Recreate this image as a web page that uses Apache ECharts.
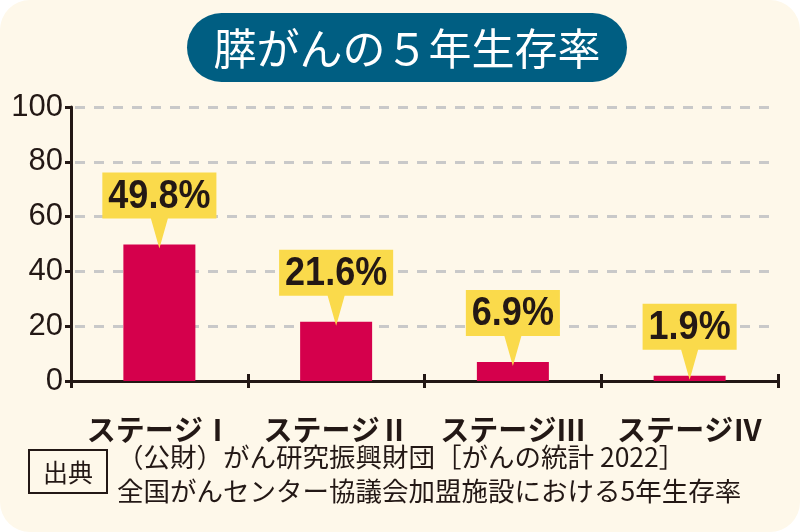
<!DOCTYPE html>
<html>
<head>
<meta charset="utf-8">
<script src="https://cdn.jsdelivr.net/npm/echarts@6/dist/echarts.min.js"></script>
<style>
    html, body {margin: 0; padding: 0; background: #ffffff;}
    #chart {width: 800px; height: 532px;}
</style>
</head>
<body>
<div id="chart"></div>
<script>
    // data
    const stages = ['ステージⅠ', 'ステージⅡ', 'ステージⅢ', 'ステージⅣ'];
    const survival = [49.8, 21.6, 6.9, 1.9];
    const yTicks = {min: 0, max: 100, interval: 20};

    const titleText = '膵がんの５年生存率';
    const sourceTag = '出典';
    const sourceLines = [
        '（公財）がん研究振興財団［がんの統計 2022］',
        '全国がんセンター協議会加盟施設における5年生存率'
    ];

    const ink = '#231815';
    const labelFont = 'bold 40px "Liberation Sans", Arial, sans-serif';
    const jpFont = '"Noto Sans CJK JP", sans-serif';

    let ctx = document.createElement('canvas').getContext('2d');
    function textWidth(txt, font) {
        ctx.font = font;
        return ctx.measureText(txt).width;
    }

    let chart = echarts.init(document.getElementById('chart'));
    chart.setOption({
        animation: false,
        backgroundColor: 'transparent',
        grid: {left: 71, right: 22, top: 107, bottom: 151},
        xAxis: [
            {
                type: 'category',
                data: stages,
                axisLine: {lineStyle: {color: ink, width: 3}},
                axisTick: {show: true, length: 7, lineStyle: {color: ink, width: 3}},
                axisLabel: {
                    interval: 0,
                    color: ink,
                    fontFamily: jpFont,
                    fontWeight: 'bold',
                    fontSize: 29,
                    margin: 34
                }
            },
            {
                // second axis only for the inner half of the crossing ticks
                type: 'category',
                data: stages,
                position: 'bottom',
                axisLine: {show: false},
                axisTick: {show: true, inside: true, length: 7, lineStyle: {color: ink, width: 3}},
                axisLabel: {show: false}
            }
        ],
        yAxis: {
            type: 'value',
            min: yTicks.min,
            max: yTicks.max,
            interval: yTicks.interval,
            axisLine: {show: true, lineStyle: {color: ink, width: 3}},
            axisTick: {show: true, length: 6, lineStyle: {color: ink, width: 3}},
            axisLabel: {
                color: ink,
                fontFamily: '"Liberation Sans", Arial, sans-serif',
                fontSize: 31,
                margin: 8
            },
            splitLine: {
                lineStyle: {color: '#C9C9C9', width: 3, type: [10, 9], dashOffset: 15}
            }
        },
        series: [
            {
                name: '5年生存率',
                type: 'bar',
                data: survival,
                barWidth: 72,
                itemStyle: {color: '#D5004C'},
                z: 2
            },
            {
                // yellow call-out boxes pointing at the bar tops
                type: 'custom',
                data: survival.map(function (v, i) { return [i, v]; }),
                z: 5,
                renderItem: function (params, api) {
                    let p = api.coord([api.value(0), api.value(1)]);
                    let txt = api.value(1).toFixed(1) + '%';
                    let w = textWidth(txt, labelFont) * 0.9 + 12;
                    let h = 46;
                    let cx = p[0];
                    let tipY = p[1] + 4;
                    let bot = tipY - 30;
                    let top = bot - h;
                    return {
                        type: 'group',
                        children: [
                            {
                                type: 'polygon',
                                shape: {
                                    points: [
                                        [cx - w / 2, top], [cx + w / 2, top], [cx + w / 2, bot],
                                        [cx + 8.5, bot], [cx, tipY], [cx - 8.5, bot], [cx - w / 2, bot]
                                    ]
                                },
                                style: {fill: '#FADA4B'}
                            },
                            {
                                type: 'text',
                                x: cx,
                                y: (top + bot) / 2 + 1,
                                scaleX: 0.9,
                                style: {
                                    text: txt,
                                    fill: ink,
                                    font: labelFont,
                                    align: 'center',
                                    verticalAlign: 'middle'
                                }
                            }
                        ]
                    };
                }
            }
        ],
        graphic: [
            {
                type: 'rect',
                z: -100,
                silent: true,
                shape: {x: 0, y: 0, width: 800, height: 532, r: 30},
                style: {fill: '#FEF8EA'}
            },
            {
                type: 'rect',
                z: 10,
                shape: {x: 187, y: 13, width: 440, height: 69, r: 34.5},
                style: {fill: '#005E82'}
            },
            {
                type: 'text',
                z: 11,
                x: 407,
                y: 49,
                style: {
                    text: titleText,
                    fill: '#ffffff',
                    font: '43px ' + jpFont,
                    align: 'center',
                    verticalAlign: 'middle'
                }
            },
            {
                type: 'rect',
                z: 10,
                shape: {x: 29, y: 450, width: 78, height: 43},
                style: {fill: 'none', stroke: ink, lineWidth: 2}
            },
            {
                type: 'text',
                z: 11,
                x: 68,
                y: 472,
                style: {
                    text: sourceTag,
                    fill: ink,
                    font: '25px ' + jpFont,
                    align: 'center',
                    verticalAlign: 'middle'
                }
            },
            {
                type: 'text',
                z: 11,
                x: 117,
                y: 457,
                style: {
                    text: sourceLines[0],
                    fill: ink,
                    font: '26.5px ' + jpFont,
                    align: 'left',
                    verticalAlign: 'middle'
                }
            },
            {
                type: 'text',
                z: 11,
                x: 117,
                y: 491,
                style: {
                    text: sourceLines[1],
                    fill: ink,
                    font: '26.5px ' + jpFont,
                    align: 'left',
                    verticalAlign: 'middle'
                }
            }
        ]
    });
</script>
</body>
</html>
